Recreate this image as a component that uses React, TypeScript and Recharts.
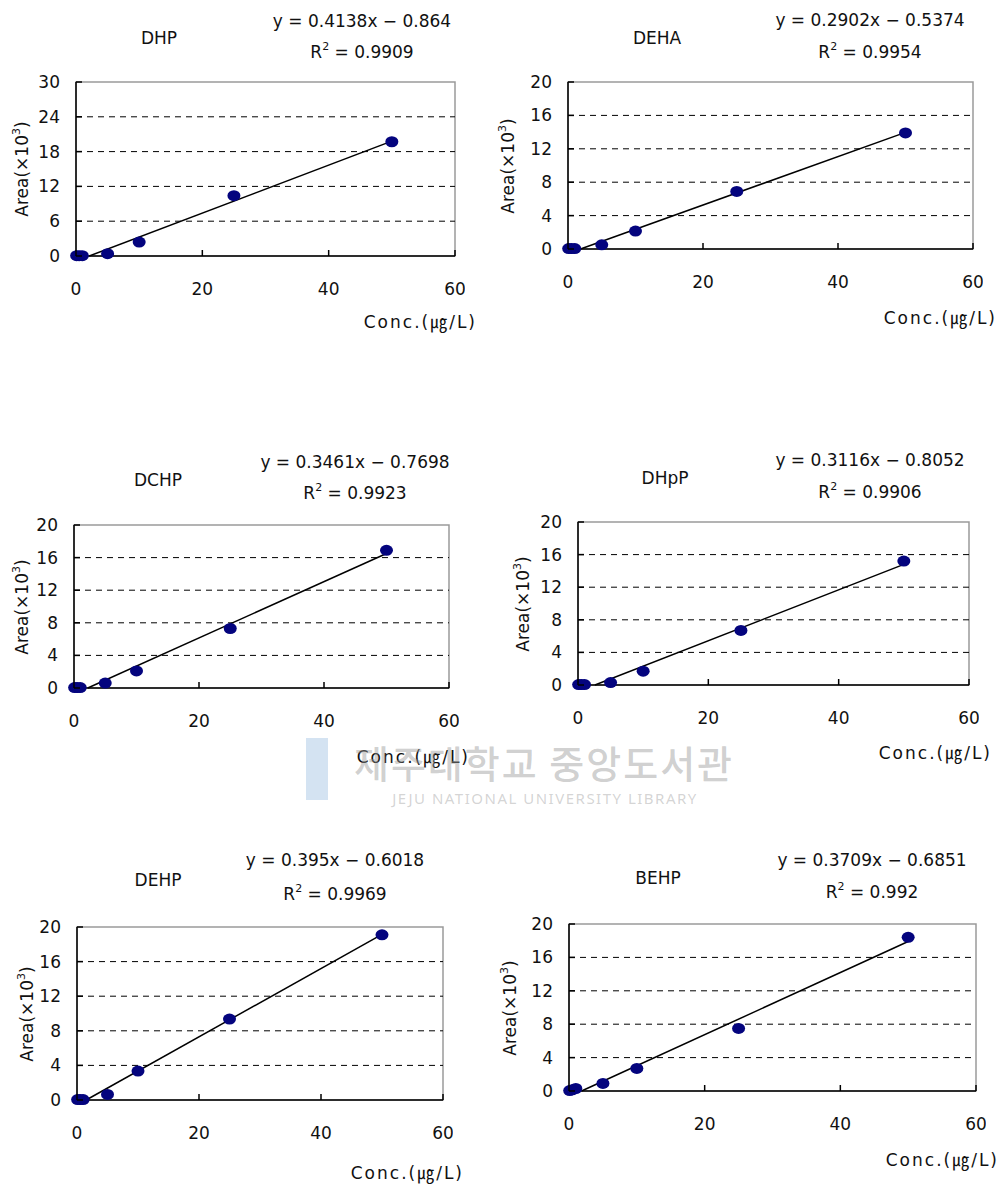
import React from 'react';
import { ComposedChart, Scatter, XAxis, YAxis, ReferenceLine, ReferenceArea } from 'recharts';

// concentrations (ug/L), same for every compound
const concX = [0.1, 0.5, 1, 5, 10, 25, 50];
const xTicks = [0, 20, 40, 60];
const ticks30 = [0, 6, 12, 18, 24, 30];
const ticks20 = [0, 4, 8, 12, 16, 20];

const compounds = ['DHP', 'DEHA', 'DCHP', 'DHpP', 'DEHP', 'BEHP'];
const equations = [
  'y = 0.4138x − 0.864',
  'y = 0.2902x − 0.5374',
  'y = 0.3461x − 0.7698',
  'y = 0.3116x − 0.8052',
  'y = 0.395x − 0.6018',
  'y = 0.3709x − 0.6851',
];
const r2Values = ['0.9909', '0.9954', '0.9923', '0.9906', '0.9969', '0.992'];

// peak area (x10^3)
const dhpArea = [0.05, 0.05, 0.05, 0.4, 2.4, 10.4, 19.7];
const dehaArea = [0.05, 0.05, 0.05, 0.5, 2.15, 6.9, 13.9];
const dchpArea = [0.05, 0.05, 0.05, 0.6, 2.1, 7.3, 16.9];
const dhppArea = [0.05, 0.05, 0.05, 0.3, 1.7, 6.7, 15.2];
const dehpArea = [0.05, 0.05, 0.05, 0.65, 3.35, 9.35, 19.1];
const behpArea = [0.05, 0.15, 0.3, 0.9, 2.7, 7.5, 18.4];

// trendline ends [x, y] as drawn
const dhpTrend = [[2.1, 0], [50, 19.8]];
const dehaTrend = [[1.85, 0], [50, 13.97]];
const dchpTrend = [[2.2, 0], [50, 16.5]];
const dhppTrend = [[2.6, 0], [50, 14.8]];
const dehpTrend = [[1.5, 0], [50, 19.15]];
const behpTrend = [[1.85, 0], [50, 17.9]];

const areas = [dhpArea, dehaArea, dchpArea, dhppArea, dehpArea, behpArea];
const trends = [dhpTrend, dehaTrend, dchpTrend, dhppTrend, dehpTrend, behpTrend];
const yTickSets = [ticks30, ticks20, ticks20, ticks20, ticks20, ticks20];

// page layout of each panel (plot rect, text anchors)
const layout = [
  { l: 76, t: 82, r: 455, b: 256, tx: 159, ty: 38, ex: 362, ey: 21, ry: 52, yl: 22, cx: 477, cy: 322 },
  { l: 568, t: 82, r: 973, b: 249, tx: 657, ty: 38, ex: 870, ey: 20, ry: 52, yl: 508, cx: 997, cy: 318 },
  { l: 74, t: 525, r: 449, b: 688, tx: 158, ty: 480, ex: 355, ey: 462, ry: 493, yl: 22, cx: 470, cy: 757 },
  { l: 578, t: 522, r: 969, b: 685, tx: 665, ty: 478, ex: 870, ey: 460, ry: 492, yl: 523, cx: 992, cy: 753 },
  { l: 77, t: 927, r: 443, b: 1100, tx: 158, ty: 880, ex: 335, ey: 860, ry: 894, yl: 27, cx: 464, cy: 1173 },
  { l: 569, t: 924, r: 976, b: 1091, tx: 658, ty: 878, ex: 872, ey: 860, ry: 892, yl: 510, cx: 999, cy: 1160 },
];

const FONT = "'DejaVu Sans', 'Noto Sans CJK KR', sans-serif";
const TXT = '#111';
const DOT = '#04047e';

const XTick = (props: any) => {
  const { x, y, payload } = props;
  return (
    <g>
      <line x1={x} x2={x} y1={y} y2={y - 6} stroke="#000" strokeWidth={1.5} />
      <text x={x} y={y + 33} textAnchor="middle" dominantBaseline="central" fontFamily={FONT} fontSize={17} fill={TXT}>
        {payload.value}
      </text>
    </g>
  );
};

const YTick = (props: any) => {
  const { x, y, payload } = props;
  return (
    <g>
      <line x1={x} x2={x + 6} y1={y} y2={y} stroke="#000" strokeWidth={1.5} />
      <text x={x - 16} y={y} textAnchor="end" dominantBaseline="central" fontFamily={FONT} fontSize={17} fill={TXT}>
        {payload.value}
      </text>
    </g>
  );
};

const Dot = (props: any) => <ellipse cx={props.cx} cy={props.cy} rx={6.5} ry={5.5} fill={DOT} />;

const abs = (x: number, y: number, extra: React.CSSProperties = {}): React.CSSProperties => ({
  position: 'absolute',
  left: x,
  top: y,
  transform: 'translate(-50%, -50%)',
  whiteSpace: 'nowrap',
  lineHeight: 1,
  fontFamily: FONT,
  fontSize: 17,
  color: TXT,
  ...extra,
});

const Panel = ({ i }: { i: number }) => {
  const L = layout[i];
  const yTicks = yTickSets[i];
  const yMax = yTicks[yTicks.length - 1];
  const data = concX.map((c, k) => ({ x: c, y: areas[i][k] }));
  const tr = trends[i];
  const padL = 60;
  const padB = 45;
  const padT = 10;
  const padR = 10;
  const width = L.r - L.l + padL + padR;
  const height = L.b - L.t + padT + padB;
  const midY = (L.t + L.b) / 2;
  return (
    <>
      <div style={{ position: 'absolute', left: L.l - padL, top: L.t - padT }}>
        <ComposedChart width={width} height={height} margin={{ top: padT, right: padR, left: 0, bottom: 0 }}>
          <XAxis
            type="number"
            dataKey="x"
            domain={[0, 60]}
            ticks={xTicks}
            height={padB}
            tickLine={false}
            tickSize={0}
            tickMargin={0}
            tick={<XTick />}
            axisLine={{ stroke: '#000', strokeWidth: 1.5 }}
            interval={0}
          />
          <YAxis
            type="number"
            dataKey="y"
            domain={[0, yMax]}
            ticks={yTicks}
            width={padL}
            tickLine={false}
            tickSize={0}
            tickMargin={0}
            tick={<YTick />}
            axisLine={{ stroke: '#000', strokeWidth: 1.5 }}
            interval={0}
          />
          <ReferenceArea x1={0} x2={60} y1={0} y2={yMax} fill="none" fillOpacity={0} stroke="#9a9a9a" strokeWidth={1.5} />
          {yTicks.slice(1, -1).map((t) => (
            <ReferenceLine key={t} y={t} stroke="#000" strokeWidth={1} strokeDasharray="6 5" />
          ))}
          <ReferenceLine
            segment={[{ x: tr[0][0], y: tr[0][1] }, { x: tr[1][0], y: tr[1][1] }]}
            stroke="#000"
            strokeWidth={1.5}
          />
          <Scatter data={data} shape={<Dot />} isAnimationActive={false} />
        </ComposedChart>
      </div>
      <div style={abs(L.tx, L.ty)}>{compounds[i]}</div>
      <div style={abs(L.ex, L.ey)}>{equations[i]}</div>
      <div style={abs(L.ex, L.ry)}>
        R<span style={{ fontSize: 11, position: 'relative', top: -8 }}>2</span> = {r2Values[i]}
      </div>
      <div style={abs(L.yl, midY, { transform: 'translate(-50%, -50%) rotate(-90deg)' })}>
        Area(×10<span style={{ fontSize: 11, position: 'relative', top: -8 }}>3</span>)
      </div>
      <div style={abs(L.cx, L.cy, { transform: 'translate(-100%, -50%)', letterSpacing: 2 })}>Conc.(㎍/L)</div>
    </>
  );
};

export default function App() {
  return (
    <div style={{ position: 'absolute', left: 0, top: 0, width: 1004, height: 1186, background: '#fff', overflow: 'hidden' }}>
      {compounds.map((c, i) => (
        <Panel key={c} i={i} />
      ))}
      {/* library watermark */}
      <div style={{ position: 'absolute', left: 306, top: 738, width: 22, height: 62, background: '#c9dcef', opacity: 0.8 }} />
      <div
        style={abs(544, 762, {
          fontFamily: "'Noto Sans CJK KR', sans-serif",
          fontSize: 38,
          fontWeight: 500,
          color: 'rgba(150,150,150,0.45)',
          letterSpacing: 2,
        })}
      >
        제주대학교 중앙도서관
      </div>
      <div
        style={abs(545, 798, {
          fontFamily: "'Noto Sans', sans-serif",
          fontSize: 15,
          color: 'rgba(160,160,160,0.45)',
          letterSpacing: 1.5,
        })}
      >
        JEJU NATIONAL UNIVERSITY LIBRARY
      </div>
    </div>
  );
}
